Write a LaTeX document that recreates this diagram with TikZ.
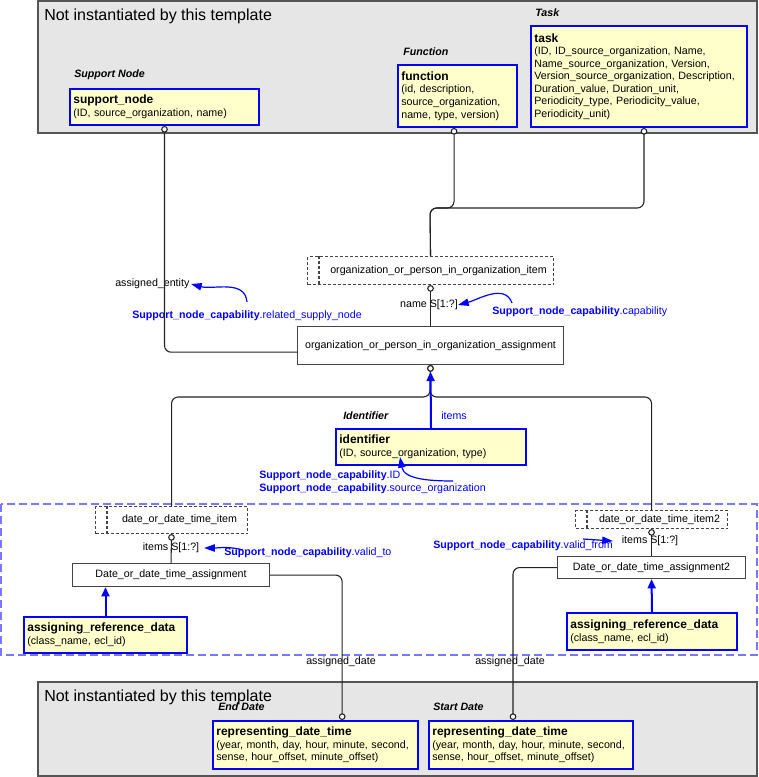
\documentclass[tikz,border=0pt]{standalone}
\usepackage{fontspec}
\setmainfont{Liberation Sans}
\usetikzlibrary{arrows.meta}

\definecolor{entfill}{HTML}{FFFFCC}
\definecolor{entedge}{HTML}{0000FF}
\definecolor{framefill}{HTML}{E6E6E6}
\definecolor{frameedge}{HTML}{555555}
\definecolor{boxedge}{HTML}{444444}
\definecolor{regionedge}{HTML}{7878FF}
\definecolor{linkcol}{HTML}{222222}

\newcommand{\snc}{\textbf{Support\_node\_capability}}
\newcommand{\enttitle}[1]{{\fontsize{9}{9.4}\selectfont\bfseries #1}\\}

\tikzset{
  frame/.style={draw=frameedge, fill=framefill, line width=1pt},
  frametitle/.style={anchor=west, inner sep=0pt, font=\fontsize{12}{14}\selectfont},
  region/.style={draw=regionedge, line width=1.2pt, dash pattern=on 6pt off 3pt},
  role/.style={anchor=west, inner sep=0pt, font=\fontsize{8}{9.4}\selectfont\bfseries\itshape},
  entity/.style 2 args={draw=entedge, fill=entfill, line width=1.5pt, anchor=north west,
    align=left, inner xsep=2.5pt, inner ysep=0pt, text width=#1*0.75pt-5pt,
    minimum height=#2*0.75pt, font=\fontsize{8}{9.4}\selectfont},
  plainbox/.style 2 args={draw=boxedge, fill=white, line width=0.8pt, anchor=north west,
    inner sep=0pt, minimum width=#1*0.75pt, minimum height=#2*0.75pt,
    font=\fontsize{8}{9.4}\selectfont},
  selectbox/.style 2 args={plainbox={#1}{#2}, dash pattern=on 2.25pt off 1.5pt,
    execute at begin node=\hspace*{12pt}},
  selline/.style={draw=boxedge, line width=0.8pt, dash pattern=on 2.25pt off 1.5pt},
  link/.style={draw=linkcol, line width=0.8pt, rounded corners=5pt},
  ring/.style={arrows={Circle[fill=white, length=5pt]-}},
  ringend/.style={arrows={-Circle[fill=white, length=5pt]}},
  isa/.style={draw=entedge, line width=1.5pt, -{Triangle[length=7pt, width=6pt]}},
  note/.style={draw=entedge, line width=0.9pt, -{Triangle[length=8pt, width=5.5pt]}},
  lbl/.style={inner sep=0pt, font=\fontsize{8}{9.4}\selectfont},
  bluelbl/.style={lbl, anchor=west, text=entedge},
}

\begin{document}
\begin{tikzpicture}[x=0.75pt, y=-0.75pt]
  \useasboundingbox (0,0) rectangle (758,777);

  % Frame of entities not instantiated (top)
  \draw[frame] (38,1) rectangle (757,133);
  \node[frametitle] (topTitle) at (44,16) {Not instantiated by this template};

  \node[role] (suppRole) at (74,75) {Support Node};
  \node[entity={189}{36}] (suppNode) at (69,88)
    {\enttitle{support\_node}(ID, source\_organization, name)};
  \node[role] (fnRole) at (403,52) {Function};
  \node[entity={119}{62}] (function) at (397,64)
    {\enttitle{function}(id, description,\\source\_organization,\\name, type, version)};
  \node[role] (taskRole) at (535,13) {Task};
  \node[entity={216}{101}] (task) at (530,25)
    {\enttitle{task}(ID, ID\_source\_organization, Name,\\Name\_source\_organization, Version,\\Version\_source\_organization, Description,\\Duration\_value, Duration\_unit,\\Periodicity\_type, Periodicity\_value,\\Periodicity\_unit)};

  % Assignment of organization or person
  \node[selectbox={246}{28}] (orgItem) at (307,256) {organization\_or\_person\_in\_organization\_item};
  \node[plainbox={266}{38}] (orgAssign) at (297,326) {organization\_or\_person\_in\_organization\_assignment};
  \node[lbl] (nameLbl) at (429,305) {name S[1:?]};
  \node[lbl, anchor=west] (entLbl) at (115,284) {assigned\_entity};
  \node[bluelbl] (rsnLbl) at (132,316) {\snc.related\_supply\_node};
  \node[bluelbl] (capLbl) at (492,312) {\snc.capability};

  % Identifier
  \node[role] (idRole) at (343,416) {Identifier};
  \node[entity={190}{36}] (identifier) at (335,428)
    {\enttitle{identifier}(ID, source\_organization, type)};
  \node[bluelbl] (itemsLbl) at (441,416) {items};
  \node[bluelbl, align=left] (idLbl) at (259,482) {\snc.ID\\\snc.source\_organization};

  % Date assignments
  \draw[region] (1,504) rectangle (757,655);
  \node[selectbox={152}{27}] (dateItem) at (95,506) {date\_or\_date\_time\_item};
  \node[plainbox={197}{23}] (dateAssign) at (72,563) {Date\_or\_date\_time\_assignment};
  \node[lbl] (items1Lbl) at (171,548) {items S[1:?]};
  \node[bluelbl] (vtLbl) at (224,553) {\snc.valid\_to};
  \node[entity={163}{36}] (assignRef1) at (23,616)
    {\enttitle{assigning\_reference\_data}(class\_name, ecl\_id)};

  \node[selectbox={152}{18}] (dateItem2) at (575,510) {date\_or\_date\_time\_item2};
  \node[plainbox={188}{22}] (dateAssign2) at (557,556) {Date\_or\_date\_time\_assignment2};
  \node[lbl] (items2Lbl) at (650,541) {items S[1:?]};
  \node[bluelbl] (vfLbl) at (433,546) {\snc.valid\_from};
  \node[entity={170}{37}] (assignRef2) at (566,612)
    {\enttitle{assigning\_reference\_data}(class\_name, ecl\_id)};

  \foreach \n in {orgItem, dateItem, dateItem2}
    \draw[selline] ([xshift=9pt]\n.north west) -- ([xshift=9pt]\n.south west);

  % Frame of entities not instantiated (bottom)
  \draw[frame] (38,682) rectangle (757,776);
  \node[frametitle] (botTitle) at (44,697) {Not instantiated by this template};
  \node[role] (endRole) at (218,707) {End Date};
  \node[entity={205}{48}] (endDate) at (212,720)
    {\enttitle{representing\_date\_time}(year, month, day, hour, minute, second,\\sense, hour\_offset, minute\_offset)};
  \node[role] (startRole) at (433,707) {Start Date};
  \node[entity={204}{48}] (startDate) at (428,720)
    {\enttitle{representing\_date\_time}(year, month, day, hour, minute, second,\\sense, hour\_offset, minute\_offset)};
  \node[lbl] (adLbl1) at (341,662) {assigned\_date};
  \node[lbl] (adLbl2) at (510,662) {assigned\_date};

  % Connectors
  \coordinate (busTop) at (430,208);
  \coordinate (split) at (430,397);
  \draw[link, ring] (suppNode.south) |- ([yshift=-5pt]orgAssign.west);
  \draw[link, ring] ([xshift=-2.6pt]function.south) |- (busTop) -- (orgItem.north);
  \draw[link, ring] ([xshift=3.75pt]task.south) |- (busTop) -- (orgItem.north);
  \draw[link, ring] (orgItem.south) -- (orgAssign.north);
  \draw[link, ring] (orgAssign.south) -- (split) -| (dateItem.north);
  \draw[link, ring] (orgAssign.south) -- (split) -| (dateItem2.north);
  \draw[isa] (identifier.north) -- ([yshift=-5pt]orgAssign.south);

  \draw[link, ring] (dateItem.south) -- (dateAssign.north);
  \draw[link, ringend] (dateAssign.east) -| ([xshift=20pt]endDate.north);
  \draw[link, ring] (dateItem2.south) -- (dateAssign2.north);
  \draw[link, ringend] (dateAssign2.west) -| ([xshift=-13.5pt]startDate.north);
  \draw[isa] (assignRef1.north) -- (assignRef1.north |- dateAssign.south);
  \draw[isa] (assignRef2.north) -- (dateAssign2.south);

  % Capability notes
  \coordinate (rsnTail) at (247,302);
  \coordinate (capTail) at (512,303);
  \coordinate (idTail) at (453,481);
  \coordinate (idTip) at (400,457);
  \coordinate (vtTail) at (243,550);
  \coordinate (vfTail) at (583,539);
  \draw[note] (rsnTail) to[out=95, in=-15] ([xshift=1pt]entLbl.east);
  \draw[note] (capTail) to[out=110, in=15] (nameLbl.east);
  \draw[note] (idTail) to[out=180, in=-80] (idTip);
  \draw[note] (vtTail) to[out=165, in=0] ([xshift=3.5pt]items1Lbl.east);
  \draw[note] (vfTail) -- ([xshift=-6.5pt]items2Lbl.west);
\end{tikzpicture}
\end{document}
